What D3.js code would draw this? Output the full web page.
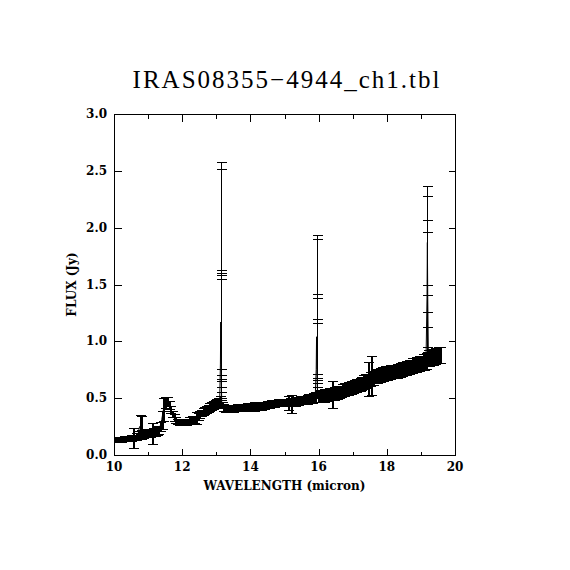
<!DOCTYPE html>
<html><head><meta charset="utf-8">
<script src="https://cdn.jsdelivr.net/npm/d3@7"></script>
<style>body{margin:0;background:#fff}svg{display:block}</style>
</head><body>
<script>
const wavelength = [9.95,10.00,10.05,10.10,10.15,10.20,10.25,10.30,10.35,10.40,10.45,10.50,10.55,10.60,10.65,10.70,10.75,10.78,10.80,10.85,10.90,10.95,11.00,11.05,11.10,11.15,11.20,11.25,11.30,11.35,11.40,11.45,11.50,11.55,11.60,11.65,11.70,11.75,11.80,11.85,11.90,11.95,12.00,12.05,12.10,12.15,12.20,12.25,12.30,12.35,12.40,12.45,12.50,12.55,12.60,12.65,12.70,12.75,12.80,12.85,12.90,12.95,13.00,13.05,13.10,13.12,13.13,13.14,13.16,13.20,13.25,13.30,13.35,13.40,13.45,13.50,13.55,13.60,13.65,13.70,13.75,13.80,13.85,13.90,13.95,14.00,14.05,14.10,14.15,14.20,14.25,14.30,14.35,14.40,14.45,14.50,14.55,14.60,14.65,14.70,14.75,14.80,14.85,14.90,14.95,15.00,15.05,15.10,15.15,15.20,15.25,15.30,15.35,15.40,15.45,15.50,15.55,15.60,15.65,15.70,15.75,15.80,15.85,15.90,15.93,15.94,15.95,15.97,16.00,16.05,16.10,16.15,16.20,16.25,16.30,16.35,16.40,16.45,16.50,16.55,16.60,16.65,16.70,16.75,16.80,16.85,16.90,16.95,17.00,17.05,17.10,17.15,17.20,17.25,17.30,17.35,17.40,17.45,17.50,17.55,17.60,17.65,17.70,17.75,17.80,17.85,17.90,17.95,18.00,18.05,18.10,18.15,18.20,18.25,18.30,18.35,18.40,18.45,18.50,18.55,18.60,18.65,18.70,18.75,18.80,18.85,18.90,18.95,19.00,19.05,19.10,19.15,19.18,19.19,19.20,19.22,19.25,19.30,19.35,19.40,19.45,19.50,19.55];
const flux = [0.135,0.135,0.138,0.137,0.140,0.140,0.142,0.143,0.145,0.145,0.147,0.150,0.150,0.155,0.160,0.175,0.250,0.240,0.185,0.185,0.190,0.190,0.190,0.195,0.190,0.200,0.205,0.210,0.220,0.250,0.310,0.400,0.460,0.470,0.440,0.400,0.360,0.330,0.310,0.295,0.290,0.285,0.285,0.290,0.290,0.295,0.300,0.305,0.310,0.315,0.325,0.340,0.355,0.370,0.380,0.390,0.400,0.410,0.420,0.430,0.440,0.450,0.460,0.470,0.480,0.800,1.170,0.800,0.440,0.415,0.410,0.410,0.410,0.410,0.410,0.412,0.413,0.415,0.415,0.418,0.420,0.420,0.420,0.422,0.422,0.425,0.425,0.425,0.428,0.430,0.430,0.432,0.435,0.437,0.440,0.443,0.447,0.450,0.452,0.455,0.457,0.460,0.460,0.460,0.462,0.462,0.462,0.460,0.465,0.450,0.468,0.470,0.473,0.477,0.480,0.482,0.485,0.488,0.490,0.495,0.498,0.500,0.505,0.510,0.750,1.040,0.750,0.510,0.515,0.520,0.520,0.525,0.530,0.530,0.535,0.535,0.530,0.540,0.545,0.550,0.555,0.560,0.570,0.575,0.580,0.585,0.590,0.595,0.600,0.605,0.610,0.615,0.620,0.630,0.640,0.650,0.655,0.670,0.670,0.700,0.680,0.690,0.695,0.700,0.705,0.710,0.715,0.720,0.720,0.725,0.730,0.730,0.735,0.740,0.740,0.745,0.750,0.755,0.760,0.765,0.770,0.775,0.780,0.785,0.790,0.795,0.800,0.805,0.810,0.815,0.820,0.830,1.400,1.870,1.400,0.850,0.855,0.860,0.865,0.870,0.875,0.880,0.880];
const fluxErr = [0.022,0.022,0.020,0.022,0.020,0.022,0.020,0.022,0.020,0.025,0.022,0.030,0.085,0.025,0.030,0.035,0.100,0.100,0.035,0.035,0.035,0.030,0.035,0.035,0.090,0.035,0.035,0.035,0.035,0.040,0.080,0.100,0.050,0.040,0.035,0.030,0.030,0.030,0.025,0.025,0.025,0.025,0.025,0.025,0.025,0.025,0.030,0.030,0.030,0.030,0.055,0.030,0.030,0.030,0.030,0.030,0.030,0.030,0.035,0.035,0.035,0.035,0.035,0.035,0.040,0,0,0,0.030,0.030,0.030,0.028,0.030,0.030,0.028,0.030,0.030,0.030,0.030,0.032,0.030,0.032,0.030,0.035,0.030,0.035,0.030,0.040,0.032,0.035,0.030,0.035,0.030,0.032,0.030,0.032,0.030,0.032,0.030,0.032,0.030,0.032,0.030,0.032,0.030,0.035,0.030,0.060,0.035,0.080,0.035,0.035,0.035,0.035,0.035,0.035,0.035,0.035,0.040,0.040,0.040,0.040,0.040,0.040,0,0,0,0.040,
  0.050,0.055,0.050,0.055,0.050,0.055,0.055,0.050,0.120,
  0.055,0.050,0.055,0.055,0.050,0.055,0.055,0.055,0.055,0.055,0.055,0.055,0.055,0.055,0.055,0.055,0.055,0.060,0.060,0.060,
  0.150,0.060,0.170,
  0.060,0.060,0.060,0.060,0.060,0.060,0.060,0.060,0.060,
  0.055,0.060,0.055,0.060,0.055,0.060,0.055,0.060,
  0.060,0.060,0.060,0.060,0.060,0.060,
  0.065,0.060,0.065,0.060,0.065,0.065,0.070,0.070,0.070,
  0,0,0,
  0.070,0.070,0.070,0.070,0.070,0.070,0.070,0.070];
// extra error bars on the three spikes (low and high ends)
const spikeWl = [13.13,13.13,13.13,13.13,13.13,13.13,13.13,15.94,15.94,15.94,15.94,15.94,15.94,15.94,19.19,19.19,19.19,19.19,19.19,19.19];
const spikeLo = [0.55,0.60,0.67,0.70,0.76,0.50,0.48,0.60,0.63,0.68,0.71,0.55,0.52,0.50,0.88,0.91,0.95,1.13,1.26,0.85];
const spikeHi = [2.58,2.52,1.63,1.60,1.58,1.55,0.65,1.935,1.90,1.42,1.38,1.20,1.16,0.66,2.37,2.28,2.07,1.96,1.50,1.41];
const xTicks = [10,12,14,16,18,20];
const yTicks = [0.0,0.5,1.0,1.5,2.0,2.5,3.0];
const titleText = "IRAS08355\u22124944_ch1.tbl";
const xLabel = "WAVELENGTH (micron)";
const yLabel = "FLUX (Jy)";

const W = 570, H = 570;
const L = 114, R = 455, T = 114, B = 455;
const svg = d3.select("body").append("svg").attr("width", W).attr("height", H);
const x = d3.scaleLinear().domain([10, 20]).range([L, R]);
const y = d3.scaleLinear().domain([0, 3]).range([B, T]);

svg.append("defs").append("clipPath").attr("id","clip")
  .append("rect").attr("x", L).attr("y", T).attr("width", R-L).attr("height", B-T);

const g = svg.append("g").attr("clip-path","url(#clip)");
const cap = 5;
const pts = wavelength.map((w,i)=>({w, f: flux[i], e: fluxErr[i] || 0, lo: flux[i]-(fluxErr[i]||0), hi: flux[i]+(fluxErr[i]||0)}));
const sp = spikeWl.map((w,i)=>({w, lo: spikeLo[i], hi: spikeHi[i], e: 1, thin: true}));
const all = pts.filter(d=>d.e>0).concat(sp);

const bars = g.append("g").attr("stroke","#000").attr("fill","none").attr("shape-rendering","crispEdges");
all.forEach(d=>{
  const cx = Math.round(x(d.w)) + 0.5;
  bars.append("line").attr("x1",cx).attr("x2",cx).attr("y1",y(d.lo)).attr("y2",y(d.hi))
    .attr("stroke-width", d.thin ? 1 : 2);
  bars.append("line").attr("x1",cx-cap).attr("x2",cx+cap).attr("y1",Math.round(y(d.lo))+0.5).attr("y2",Math.round(y(d.lo))+0.5).attr("stroke-width",1);
  bars.append("line").attr("x1",cx-cap).attr("x2",cx+cap).attr("y1",Math.round(y(d.hi))+0.5).attr("y2",Math.round(y(d.hi))+0.5).attr("stroke-width",1);
});
g.append("path").datum(pts)
  .attr("d", d3.line().x(d=>x(d.w)).y(d=>y(d.f)))
  .attr("fill","none").attr("stroke","#000").attr("stroke-width",1);

// frame
svg.append("rect").attr("x",L+0.5).attr("y",T+0.5).attr("width",R-L).attr("height",B-T)
  .attr("fill","none").attr("stroke","#000").attr("stroke-width",1).attr("shape-rendering","crispEdges");

// axes with inward ticks
const tickStyle = sel => sel.call(s=>s.select(".domain").remove())
  .selectAll("line").attr("stroke","#000").attr("shape-rendering","crispEdges");
const fontT = "'DejaVu Serif', serif";
const xb = svg.append("g").attr("transform",`translate(0,${B+0.5})`)
  .call(d3.axisBottom(x).tickValues(d3.range(10,21,1)).tickSizeInner(-4).tickSizeOuter(0).tickFormat(()=>""));
tickStyle(xb);
xb.selectAll(".tick line").filter(d=>d%2===0).attr("y2",-7);
const xt = svg.append("g").attr("transform",`translate(0,${T+0.5})`)
  .call(d3.axisTop(x).tickValues(d3.range(10,21,1)).tickSizeInner(-4).tickSizeOuter(0).tickFormat(()=>""));
tickStyle(xt);
xt.selectAll(".tick line").filter(d=>d%2===0).attr("y2",7);
const yl = svg.append("g").attr("transform",`translate(${L+0.5},0)`)
  .call(d3.axisLeft(y).tickValues(yTicks).tickSizeInner(-7).tickSizeOuter(0).tickFormat(()=>""));
tickStyle(yl);
const yr = svg.append("g").attr("transform",`translate(${R+0.5},0)`)
  .call(d3.axisRight(y).tickValues(yTicks).tickSizeInner(-7).tickSizeOuter(0).tickFormat(()=>""));
tickStyle(yr);

// tick labels
svg.append("g").selectAll("text").data(xTicks).join("text")
  .attr("x",d=>x(d)).attr("y",B+16).attr("text-anchor","middle")
  .attr("font-family",fontT).attr("font-size",12).attr("font-weight","bold").text(d=>d);
svg.append("g").selectAll("text").data(yTicks).join("text")
  .attr("x",L-7).attr("y",d=>y(d)+4).attr("text-anchor","end")
  .attr("font-family",fontT).attr("font-size",12).attr("font-weight","bold").text(d=>d.toFixed(1));

svg.append("text").attr("x",(L+R)/2).attr("y",B+35).attr("text-anchor","middle")
  .attr("font-family",fontT).attr("font-size",12).attr("font-weight","bold").text(xLabel);
svg.append("text").attr("transform",`translate(${L-38},${(T+B)/2}) rotate(-90)`).attr("text-anchor","middle")
  .attr("font-family",fontT).attr("font-size",12).attr("font-weight","bold").text(yLabel);
svg.append("text").attr("x",287).attr("y",88).attr("text-anchor","middle")
  .attr("font-family","'Liberation Serif', serif").attr("font-size",25).attr("letter-spacing",2).text(titleText);
</script>
</body></html>
